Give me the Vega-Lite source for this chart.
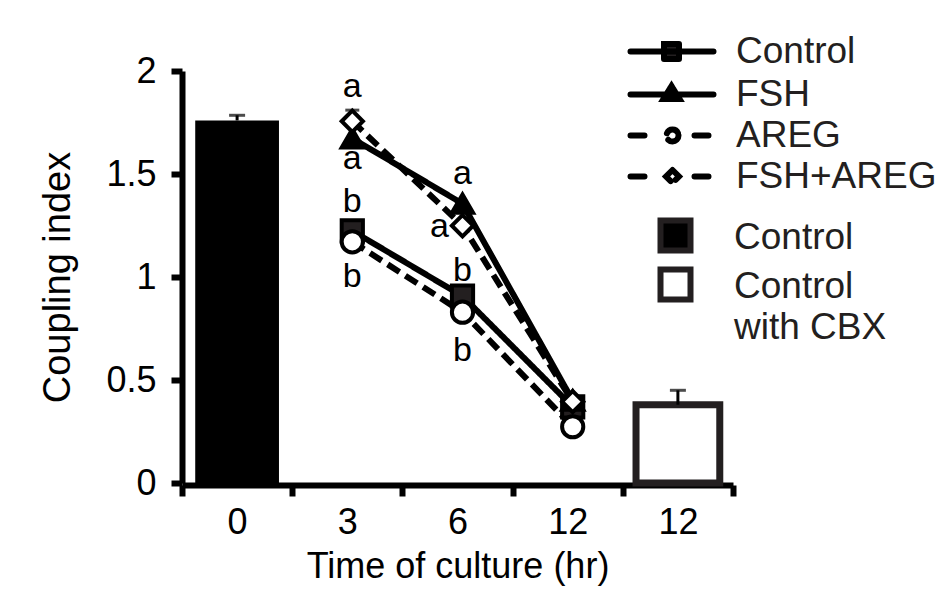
{
  "$schema": "https://vega.github.io/schema/vega-lite/v6.json",
  "width": 551,
  "height": 412,
  "autosize": {"type": "none"},
  "padding": {"left": 182, "top": 71, "right": 211, "bottom": 117},
  "background": "white",
  "config": {
    "view": {"stroke": null},
    "font": "Liberation Sans",
    "axis": {"grid": false, "domainColor": "black", "tickColor": "black", "labelColor": "black", "titleColor": "black", "titleFontWeight": "normal", "labelFont": "Liberation Sans", "titleFont": "Liberation Sans"},
    "legend": {"labelFont": "Liberation Sans", "labelColor": "#231f20", "labelLimit": 400}
  },
  "datasets": {
    "bars": [
      {"cat": "0", "group": "Control", "value": 1.76, "upper": 1.785},
      {"cat": "12b", "group": "Control with CBX", "value": 0.38, "upper": 0.45}
    ],
    "series": [
      {"cat": "3", "hr": 3, "series": "Control", "value": 1.224},
      {"cat": "6", "hr": 6, "series": "Control", "value": 0.907},
      {"cat": "12", "hr": 12, "series": "Control", "value": 0.37},
      {"cat": "3", "hr": 3, "series": "FSH", "value": 1.673},
      {"cat": "6", "hr": 6, "series": "FSH", "value": 1.356},
      {"cat": "12", "hr": 12, "series": "FSH", "value": 0.4},
      {"cat": "3", "hr": 3, "series": "AREG", "value": 1.171},
      {"cat": "6", "hr": 6, "series": "AREG", "value": 0.829},
      {"cat": "12", "hr": 12, "series": "AREG", "value": 0.273},
      {"cat": "3", "hr": 3, "series": "FSH+AREG", "value": 1.756},
      {"cat": "6", "hr": 6, "series": "FSH+AREG", "value": 1.249},
      {"cat": "12", "hr": 12, "series": "FSH+AREG", "value": 0.395}
    ],
    "pointErr": [
      {"cat": "3", "series": "FSH+AREG", "value": 1.756, "upper": 1.81}
    ],
    "letters": [
      {"cat": "3", "pos": 1.922, "letter": "a"},
      {"cat": "3", "pos": 1.571, "letter": "a"},
      {"cat": "3", "pos": 1.363, "letter": "b"},
      {"cat": "3", "pos": 0.998, "letter": "b"},
      {"cat": "6", "pos": 1.498, "letter": "a"},
      {"cat": "6", "pos": 1.027, "letter": "b"},
      {"cat": "6", "pos": 0.641, "letter": "b"}
    ],
    "lettersLeft": [
      {"cat": "6", "pos": 1.244, "letter": "a"}
    ]
  },
  "encoding": {
    "x": {
      "field": "cat",
      "type": "nominal",
      "scale": {"domain": ["0", "3", "6", "12", "12b"], "paddingInner": 0, "paddingOuter": 0},
      "axis": {
        "title": "Time of culture (hr)",
        "labelExpr": "datum.value == '12b' ? '12' : datum.value",
        "tickBand": "extent",
        "offset": 2,
        "domainWidth": 6,
        "tickWidth": 6,
        "tickSize": 11,
        "labelFontSize": 36,
        "labelAngle": 0,
        "labelPadding": 9,
        "titleFontSize": 36,
        "titlePadding": 9
      }
    }
  },
  "layer": [
    {
      "data": {"name": "bars"},
      "mark": {"type": "bar", "width": {"band": 0.76}, "stroke": "#231f20"},
      "encoding": {
        "y": {
          "field": "value",
          "type": "quantitative",
          "scale": {"domain": [0, 2]},
          "axis": {
            "title": "Coupling index",
            "values": [0, 0.5, 1, 1.5, 2],
            "format": "~g",
            "domainWidth": 6,
            "tickWidth": 6,
            "tickSize": 11,
            "labelFontSize": 36,
            "labelPadding": 15,
            "titleFontSize": 38,
            "titlePadding": 28
          }
        },
        "fill": {
          "field": "group",
          "type": "nominal",
          "scale": {"domain": ["Control", "Control with CBX"], "range": ["#000000", "#ffffff"]},
          "legend": {
            "orient": "none",
            "legendX": 475,
            "legendY": 146,
            "title": null,
            "symbolType": "square",
            "symbolSize": 900,
            "symbolStrokeColor": "#231f20",
            "symbolStrokeWidth": 6,
            "labelFontSize": 37,
            "labelOffset": 40,
            "rowPadding": -6,
            "labelBaseline": "alphabetic",
            "labelExpr": "datum.label == 'Control with CBX' ? ['Control', 'with CBX'] : datum.label",
            "encode": {
              "labels": {"update": {"dy": {"value": 13}, "lineHeight": {"value": 41}}}
            }
          }
        },
        "strokeWidth": {"condition": {"test": "datum.group === 'Control with CBX'", "value": 7}, "value": 0}
      }
    },
    {
      "data": {"name": "bars"},
      "mark": {"type": "rule", "strokeWidth": 3, "color": "black"},
      "encoding": {
        "y": {"field": "value", "type": "quantitative", "scale": {"domain": [0, 2]}},
        "y2": {"field": "upper"}
      }
    },
    {
      "data": {"name": "bars"},
      "mark": {"type": "tick", "size": 16, "thickness": 3, "color": "black", "orient": "horizontal"},
      "encoding": {
        "y": {"field": "upper", "type": "quantitative", "scale": {"domain": [0, 2]}}
      }
    },
    {
      "data": {"name": "series"},
      "mark": {"type": "line", "strokeWidth": 6, "xOffset": 5, "color": "black"},
      "encoding": {
        "y": {"field": "value", "type": "quantitative", "scale": {"domain": [0, 2]}},
        "detail": {"field": "series", "type": "nominal"},
        "order": {"field": "hr", "type": "quantitative"},
        "strokeDash": {
          "field": "series",
          "type": "nominal",
          "scale": {"domain": ["Control", "FSH", "AREG", "FSH+AREG"], "range": [[1, 0], [1, 0], [14, 7], [14, 7]]},
          "legend": {
            "orient": "none",
            "legendX": 471,
            "legendY": -38,
            "title": null,
            "symbolSize": 400,
            "symbolStrokeWidth": 6,
            "symbolStrokeColor": "black",
            "labelFontSize": 37,
            "labelOffset": 46,
            "rowPadding": 3,
            "encode": {
              "symbols": {
                "update": {
                  "shape": {"signal": "datum.value === 'Control' ? 'M-4.1,0H4.2M-0.75,-0.75H0.75V0.75H-0.75Z' : datum.value === 'FSH' ? 'M-4.1,0H4.2M0,-0.85L0.8,0.45L-0.8,0.45Z' : datum.value === 'AREG' ? 'M-4.1,0H-2.0M2.3,0H4.2M0.7,0C0.7,0.331 0.431,0.6 0.1,0.6C-0.231,0.6 -0.5,0.331 -0.5,0C-0.5,-0.331 -0.231,-0.6 0.1,-0.6C0.431,-0.6 0.7,-0.331 0.7,0Z' : 'M-4.1,0H-2.0M2.3,0H4.2M0.1,-0.65L0.75,0L0.1,0.65L-0.55,0Z'"},
                  "fill": {"signal": "datum.value === 'Control' ? '#231f20' : datum.value === 'FSH' ? '#000000' : '#ffffff'"},
                  "stroke": {"value": "#000000"},
                  "strokeDash": {"value": [1, 0]},
                  "strokeWidth": {"value": 6},
                  "strokeCap": {"value": "round"},
                  "size": {"value": 400},
                  "opacity": {"value": 1}
                }
              }
            }
          }
        }
      }
    },
    {
      "data": {"name": "pointErr"},
      "mark": {"type": "rule", "strokeWidth": 3, "color": "black", "xOffset": 5},
      "encoding": {
        "y": {"field": "value", "type": "quantitative", "scale": {"domain": [0, 2]}},
        "y2": {"field": "upper"}
      }
    },
    {
      "data": {"name": "pointErr"},
      "mark": {"type": "tick", "size": 14, "thickness": 3, "color": "black", "orient": "horizontal", "xOffset": 5},
      "encoding": {
        "y": {"field": "upper", "type": "quantitative", "scale": {"domain": [0, 2]}}
      }
    },
    {
      "data": {"name": "series"},
      "transform": [{"filter": "datum.series === 'Control'"}],
      "mark": {"type": "point", "shape": "square", "filled": true, "fill": "#231f20", "size": 450, "stroke": "black", "strokeWidth": 4, "opacity": 1, "xOffset": 5},
      "encoding": {
        "y": {"field": "value", "type": "quantitative", "scale": {"domain": [0, 2]}}
      }
    },
    {
      "data": {"name": "series"},
      "transform": [{"filter": "datum.series === 'FSH'"}],
      "mark": {"type": "point", "shape": "triangle-up", "filled": true, "fill": "#000000", "size": 450, "stroke": "black", "strokeWidth": 4, "opacity": 1, "xOffset": 5},
      "encoding": {
        "y": {"field": "value", "type": "quantitative", "scale": {"domain": [0, 2]}}
      }
    },
    {
      "data": {"name": "series"},
      "transform": [{"filter": "datum.series === 'AREG'"}],
      "mark": {"type": "point", "shape": "circle", "filled": true, "fill": "#ffffff", "size": 450, "stroke": "black", "strokeWidth": 4, "opacity": 1, "xOffset": 5},
      "encoding": {
        "y": {"field": "value", "type": "quantitative", "scale": {"domain": [0, 2]}}
      }
    },
    {
      "data": {"name": "series"},
      "transform": [{"filter": "datum.series === 'FSH+AREG'"}],
      "mark": {"type": "point", "shape": "diamond", "filled": true, "fill": "#ffffff", "size": 450, "stroke": "black", "strokeWidth": 4, "opacity": 1, "xOffset": 5},
      "encoding": {
        "y": {"field": "value", "type": "quantitative", "scale": {"domain": [0, 2]}}
      }
    },
    {
      "data": {"name": "letters"},
      "mark": {"type": "text", "fontSize": 34, "baseline": "middle", "align": "center", "color": "black", "xOffset": 5},
      "encoding": {
        "y": {"field": "pos", "type": "quantitative", "scale": {"domain": [0, 2]}},
        "text": {"field": "letter", "type": "nominal"}
      }
    },
    {
      "data": {"name": "lettersLeft"},
      "mark": {"type": "text", "fontSize": 34, "baseline": "middle", "align": "center", "color": "black", "xOffset": -18},
      "encoding": {
        "y": {"field": "pos", "type": "quantitative", "scale": {"domain": [0, 2]}},
        "text": {"field": "letter", "type": "nominal"}
      }
    }
  ],
  "resolve": {"scale": {"fill": "independent"}}
}
